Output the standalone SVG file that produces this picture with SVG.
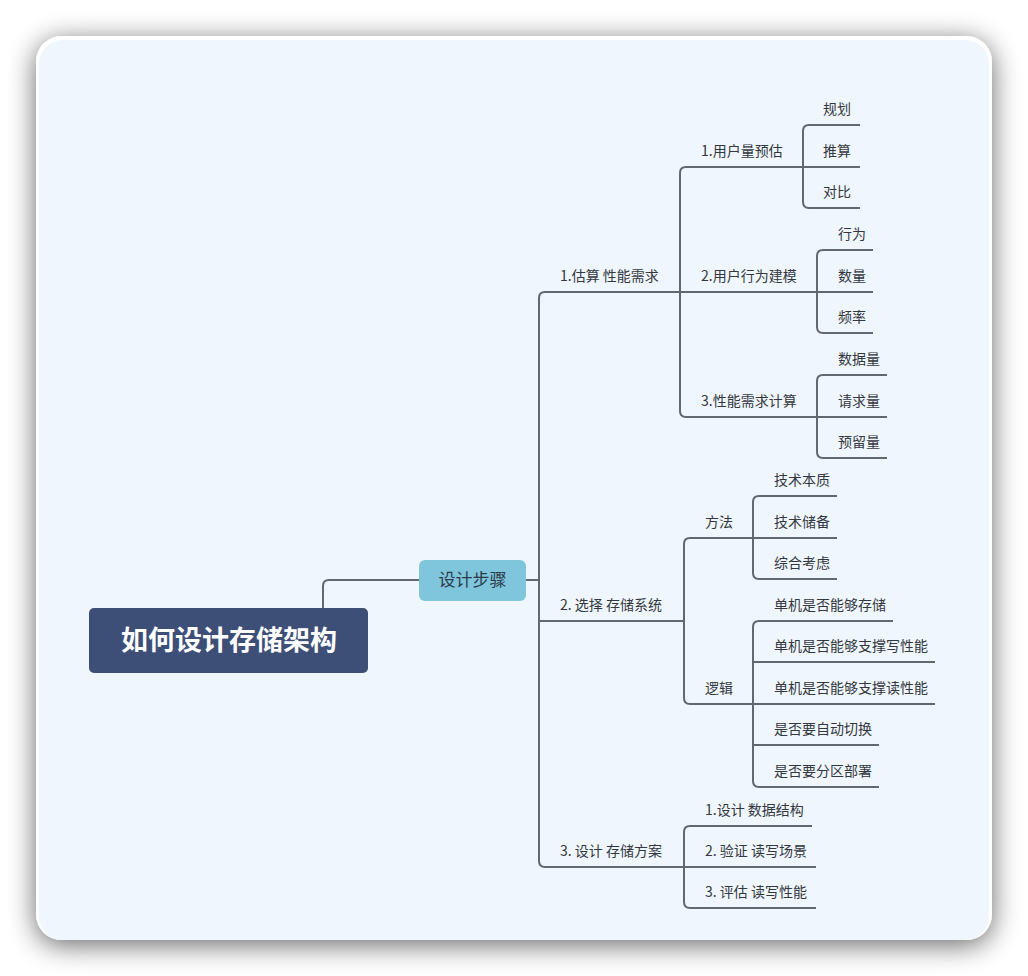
<svg xmlns="http://www.w3.org/2000/svg" width="1028" height="976" viewBox="0 0 1028 976">
  <defs>
    <filter id="cardShadow" x="-10%" y="-10%" width="120%" height="120%">
      <feGaussianBlur in="SourceAlpha" stdDeviation="14"/>
      <feOffset dx="0" dy="5" result="blur"/>
      <feComponentTransfer><feFuncA type="linear" slope="0.6"/></feComponentTransfer>
      <feMerge><feMergeNode/><feMergeNode in="SourceGraphic"/></feMerge>
    </filter>
    <style>
      .ln { fill: none; stroke: #63676f; stroke-width: 2; stroke-linejoin: round; }
      .t { font-family: "Noto Sans CJK SC", "Noto Sans", sans-serif; font-size: 14px; fill: #333840; }
      .root-box { fill: #3e4f77; }
      .root-t { font-family: "Noto Sans CJK SC", "Noto Sans", sans-serif; font-size: 27px; font-weight: bold; fill: #ffffff; }
      .main-box { fill: #7fc6dd; }
      .main-t { font-family: "Noto Sans CJK SC", "Noto Sans", sans-serif; font-size: 17px; fill: #2c3a4c; }
    </style>
  </defs>

  <!-- page and card -->
  <rect width="1028" height="976" fill="#ffffff"/>
  <rect x="36" y="36" width="956" height="904" rx="26" fill="#ffffff" filter="url(#cardShadow)"/>
  <rect x="39" y="40" width="950" height="900" rx="24" fill="#f0f6fd"/>

  <!-- connectors -->
  <g id="connectors">
    <!-- root to main topic -->
    <path class="ln" d="M323,608 V586 Q323,580 329,580 H419"/>
    <path class="ln" d="M526,580 H539"/>
    <!-- trunk -->
    <path class="ln" d="M680,292 H545 Q539,292 539,298 V861 Q539,867 545,867 H684"/>
    <path class="ln" d="M539,621 H684"/>

    <!-- branch 1 level 2 -->
    <path class="ln" d="M803,167 H686 Q680,167 680,173 V411 Q680,417 686,417 H817"/>
    <path class="ln" d="M680,292 H817"/>
    <!-- 1.用户量预估 children -->
    <path class="ln" d="M860,125 H809 Q803,125 803,131 V202 Q803,208 809,208 H860"/>
    <path class="ln" d="M803,167 H860"/>
    <!-- 2.用户行为建模 children -->
    <path class="ln" d="M873,250 H823 Q817,250 817,256 V327 Q817,333 823,333 H873"/>
    <path class="ln" d="M817,292 H873"/>
    <!-- 3.性能需求计算 children -->
    <path class="ln" d="M887,375 H823 Q817,375 817,381 V452 Q817,458 823,458 H887"/>
    <path class="ln" d="M817,417 H887"/>

    <!-- branch 2 level 2 -->
    <path class="ln" d="M753,538 H690 Q684,538 684,544 V698 Q684,704 690,704 H753"/>
    <!-- 方法 children -->
    <path class="ln" d="M837,496 H759 Q753,496 753,502 V573 Q753,579 759,579 H837"/>
    <path class="ln" d="M753,538 H837"/>
    <!-- 逻辑 children -->
    <path class="ln" d="M893,621 H759 Q753,621 753,627 V781 Q753,787 759,787 H879"/>
    <path class="ln" d="M753,662 H935"/>
    <path class="ln" d="M753,704 H935"/>
    <path class="ln" d="M753,745 H879"/>

    <!-- branch 3 children -->
    <path class="ln" d="M812,826 H690 Q684,826 684,832 V902 Q684,908 690,908 H816"/>
    <path class="ln" d="M684,867 H816"/>
  </g>

  <!-- central topic -->
  <g id="root">
    <rect class="root-box" x="89" y="608" width="279" height="65" rx="5"/>
    <text class="root-t" x="229" y="650" text-anchor="middle">如何设计存储架构</text>
  </g>

  <g id="steps">
    <rect class="main-box" x="419" y="560" width="107" height="41" rx="6"/>
    <text class="main-t" x="472.5" y="586" text-anchor="middle">设计步骤</text>
  </g>

  <!-- level 1 branches -->
  <g id="b1"><text class="t" x="560" y="281">1.估算 性能需求</text></g>
  <g id="b2"><text class="t" x="560" y="610">2. 选择 存储系统</text></g>
  <g id="b3"><text class="t" x="560" y="856">3. 设计 存储方案</text></g>

  <!-- branch 1 -->
  <g id="b1-1"><text class="t" x="701" y="156">1.用户量预估</text></g>
  <g id="b1-2"><text class="t" x="701" y="281">2.用户行为建模</text></g>
  <g id="b1-3"><text class="t" x="701" y="406">3.性能需求计算</text></g>

  <g id="b1-1-1"><text class="t" x="823" y="114">规划</text></g>
  <g id="b1-1-2"><text class="t" x="823" y="156">推算</text></g>
  <g id="b1-1-3"><text class="t" x="823" y="197">对比</text></g>

  <g id="b1-2-1"><text class="t" x="838" y="239">行为</text></g>
  <g id="b1-2-2"><text class="t" x="838" y="281">数量</text></g>
  <g id="b1-2-3"><text class="t" x="838" y="322">频率</text></g>

  <g id="b1-3-1"><text class="t" x="838" y="364">数据量</text></g>
  <g id="b1-3-2"><text class="t" x="838" y="406">请求量</text></g>
  <g id="b1-3-3"><text class="t" x="838" y="447">预留量</text></g>

  <!-- branch 2 -->
  <g id="b2-1"><text class="t" x="705" y="527">方法</text></g>
  <g id="b2-2"><text class="t" x="705" y="693">逻辑</text></g>

  <g id="b2-1-1"><text class="t" x="774" y="485">技术本质</text></g>
  <g id="b2-1-2"><text class="t" x="774" y="527">技术储备</text></g>
  <g id="b2-1-3"><text class="t" x="774" y="568">综合考虑</text></g>

  <g id="b2-2-1"><text class="t" x="774" y="610">单机是否能够存储</text></g>
  <g id="b2-2-2"><text class="t" x="774" y="651">单机是否能够支撑写性能</text></g>
  <g id="b2-2-3"><text class="t" x="774" y="693">单机是否能够支撑读性能</text></g>
  <g id="b2-2-4"><text class="t" x="774" y="734">是否要自动切换</text></g>
  <g id="b2-2-5"><text class="t" x="774" y="776">是否要分区部署</text></g>

  <!-- branch 3 -->
  <g id="b3-1"><text class="t" x="705" y="815">1.设计 数据结构</text></g>
  <g id="b3-2"><text class="t" x="705" y="856">2. 验证 读写场景</text></g>
  <g id="b3-3"><text class="t" x="705" y="897">3. 评估 读写性能</text></g>
</svg>
